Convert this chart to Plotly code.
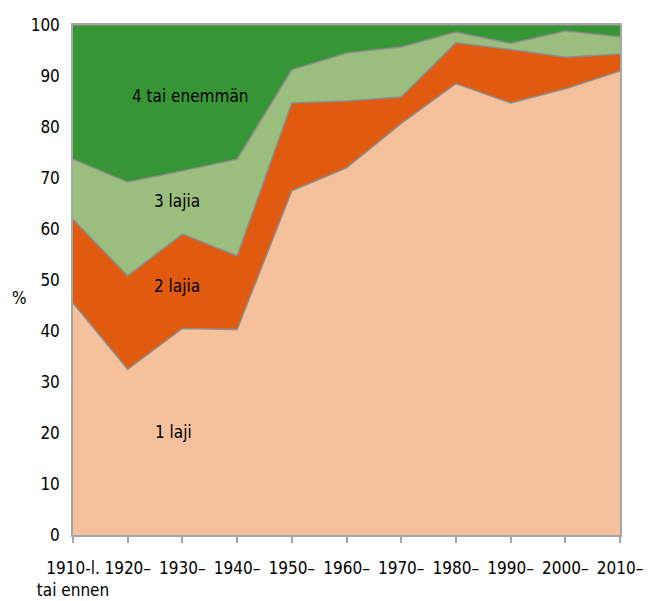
import plotly.graph_objects as go

categories = ["1910-l.<br>tai ennen", "1920–", "1930–", "1940–", "1950–", "1960–",
              "1970–", "1980–", "1990–", "2000–", "2010–"]
laji1 = [45.5, 32.5, 40.5, 40.3, 67.5, 72.0, 80.7, 88.5, 84.7, 87.5, 91.0]
lajia2 = [16.4, 18.3, 18.5, 14.4, 17.2, 13.1, 5.2, 8.0, 10.5, 6.2, 3.3]
lajia3 = [11.8, 18.4, 12.4, 19.0, 6.5, 9.4, 9.8, 2.1, 1.2, 5.1, 3.4]
enemman4 = [26.3, 30.8, 28.6, 26.3, 8.8, 5.5, 4.3, 1.4, 3.6, 1.2, 2.3]

series = [
    ("1 laji", laji1, "#F5C19C"),
    ("2 lajia", lajia2, "#E05A10"),
    ("3 lajia", lajia3, "#9BBD7D"),
    ("4 tai enemmän", enemman4, "#369636"),
]

xs = list(range(len(categories)))
FONT = "DejaVu Sans Condensed, Liberation Sans Narrow, sans-serif"
TXT = "#000000"

fig = go.Figure()
for name, vals, col in series:
    fig.add_trace(go.Scatter(
        x=xs, y=vals, name=name, mode="lines", stackgroup="one",
        fillcolor=col, line=dict(color="#8c8c8c", width=1.5),
        hoverinfo="x+y+name",
    ))

labels = [("4 tai enemmän", 2.14, 86.1), ("3 lajia", 1.90, 65.5),
          ("2 lajia", 1.90, 48.8), ("1 laji", 1.83, 20.1)]
for txt, x, y in labels:
    fig.add_annotation(x=x, y=y, text=txt, showarrow=False,
                       font=dict(size=17, color=TXT, family=FONT))

fig.add_annotation(xref="paper", yref="paper", x=-0.097, y=0.465, text="%",
                   xanchor="center", showarrow=False,
                   font=dict(size=17, color=TXT, family=FONT))

fig.update_layout(
    width=647, height=593,
    margin=dict(l=65, r=35, t=17, b=66),
    paper_bgcolor="white", plot_bgcolor="white",
    showlegend=False,
    font=dict(family=FONT, size=17, color=TXT),
)
fig.update_xaxes(
    range=[0, 10], tickvals=xs, ticktext=categories, showgrid=False, zeroline=False,
    showline=True, linecolor="#a6a6a6", linewidth=1.5, mirror=True,
    ticks="outside", ticklen=6, tickcolor="#a6a6a6", tickwidth=1.5,
    tickfont=dict(size=17, family=FONT, color=TXT), tickangle=0,
    ticklabelstandoff=11, automargin=False,
)
fig.update_yaxes(
    range=[0, 100], dtick=10, showgrid=False, zeroline=False,
    showline=True, linecolor="#a6a6a6", linewidth=1.5, mirror=True,
    ticks="", ticklabelstandoff=8, automargin=False,
    tickfont=dict(size=17, family=FONT, color=TXT),
)

fig.write_html("out.html")
